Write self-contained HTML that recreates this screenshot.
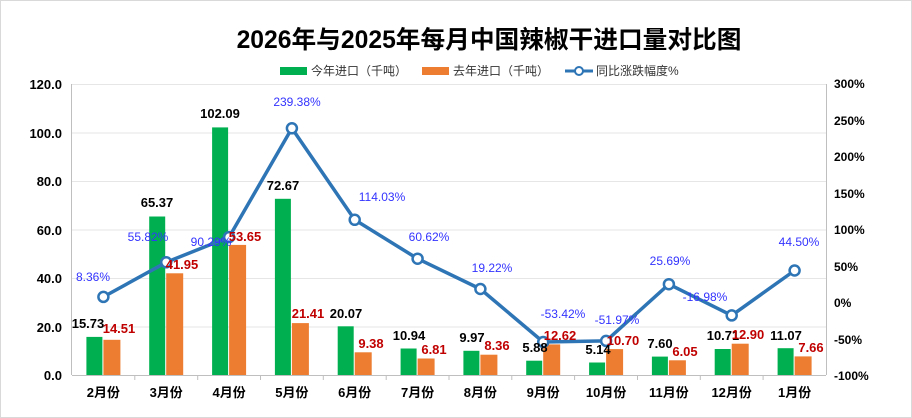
<!DOCTYPE html>
<html><head><meta charset="utf-8"><style>
body{margin:0;background:#fff}
svg{display:block;font-family:"Liberation Sans","Noto Sans CJK SC",sans-serif}
</style></head><body>
<svg width="912" height="418" viewBox="0 0 912 418">
<rect x="0.5" y="0.5" width="911" height="417" fill="#fff" stroke="#d9d9d9"/>
<text x="489" y="48" text-anchor="middle" font-size="24.7" font-weight="bold" fill="#000">2026年与2025年每月中国辣椒干进口量对比图</text>
<g font-size="12" fill="#333">
<rect x="280" y="67" width="27" height="8" fill="#00b050"/><text x="311" y="75">今年进口（千吨）</text>
<rect x="422" y="67" width="27" height="8" fill="#ed7d31"/><text x="453" y="75">去年进口（千吨）</text>
<line x1="565" y1="71" x2="593" y2="71" stroke="#2e75b6" stroke-width="3"/><circle cx="579" cy="71" r="4" fill="#fff" stroke="#2e75b6" stroke-width="2"/><text x="596" y="75">同比涨跌幅度%</text>
</g>
<g stroke="#e6e6e6" stroke-width="1">
<line x1="72" y1="84.5" x2="826" y2="84.5"/><line x1="72" y1="133" x2="826" y2="133"/><line x1="72" y1="181.5" x2="826" y2="181.5"/><line x1="72" y1="230" x2="826" y2="230"/><line x1="72" y1="278.5" x2="826" y2="278.5"/><line x1="72" y1="327" x2="826" y2="327"/>
</g>
<g stroke="#bfbfbf"><line x1="71.5" y1="84" x2="71.5" y2="375"/><line x1="826.5" y1="84" x2="826.5" y2="375"/><line x1="72" y1="375.5" x2="826" y2="375.5"/>
<line x1="134.8" y1="375" x2="134.8" y2="380"/><line x1="197.7" y1="375" x2="197.7" y2="380"/><line x1="260.5" y1="375" x2="260.5" y2="380"/><line x1="323.3" y1="375" x2="323.3" y2="380"/><line x1="386.2" y1="375" x2="386.2" y2="380"/><line x1="449" y1="375" x2="449" y2="380"/><line x1="511.8" y1="375" x2="511.8" y2="380"/><line x1="574.6" y1="375" x2="574.6" y2="380"/><line x1="637.5" y1="375" x2="637.5" y2="380"/><line x1="700.3" y1="375" x2="700.3" y2="380"/><line x1="763.1" y1="375" x2="763.1" y2="380"/>
</g>
<g font-size="13" font-weight="bold" text-anchor="end" fill="#000">
<text x="62" y="89">120.0</text><text x="62" y="138">100.0</text><text x="62" y="186">80.0</text><text x="62" y="235">60.0</text><text x="62" y="283">40.0</text><text x="62" y="332">20.0</text><text x="62" y="380">0.0</text>
</g>
<g font-size="12" font-weight="bold" fill="#000">
<text x="834" y="88">300%</text><text x="834" y="125">250%</text><text x="834" y="161">200%</text><text x="834" y="198">150%</text><text x="834" y="234">100%</text><text x="834" y="271">50%</text><text x="834" y="307">0%</text><text x="834" y="344">-50%</text><text x="834" y="380">-100%</text>
</g>
<g fill="#00b050">
<rect x="86.4" y="336.9" width="16" height="38.1"/>
<rect x="149.2" y="216.5" width="16" height="158.5"/>
<rect x="212.1" y="127.4" width="16" height="247.6"/>
<rect x="274.9" y="198.8" width="16" height="176.2"/>
<rect x="337.7" y="326.3" width="16" height="48.7"/>
<rect x="400.6" y="348.5" width="16" height="26.5"/>
<rect x="463.4" y="350.8" width="16" height="24.2"/>
<rect x="526.2" y="360.7" width="16" height="14.3"/>
<rect x="589.1" y="362.5" width="16" height="12.5"/>
<rect x="651.9" y="356.6" width="16" height="18.4"/>
<rect x="714.7" y="349" width="16" height="26"/>
<rect x="777.6" y="348.2" width="16" height="26.8"/>
</g>
<g fill="#ed7d31">
<rect x="103.4" y="339.8" width="17" height="35.2"/>
<rect x="166.2" y="273.3" width="17" height="101.7"/>
<rect x="229.1" y="244.9" width="17" height="130.1"/>
<rect x="291.9" y="323.1" width="17" height="51.9"/>
<rect x="354.7" y="352.3" width="17" height="22.7"/>
<rect x="417.6" y="358.5" width="17" height="16.5"/>
<rect x="480.4" y="354.7" width="17" height="20.3"/>
<rect x="543.2" y="344.4" width="17" height="30.6"/>
<rect x="606.1" y="349.1" width="17" height="25.9"/>
<rect x="668.9" y="360.3" width="17" height="14.7"/>
<rect x="731.7" y="343.7" width="17" height="31.3"/>
<rect x="794.6" y="356.4" width="17" height="18.6"/>
</g>
<g font-size="13" font-weight="bold" text-anchor="middle" fill="#000">
<text x="103.4" y="397">2月份</text><text x="166.2" y="397">3月份</text><text x="229.1" y="397">4月份</text><text x="291.9" y="397">5月份</text><text x="354.7" y="397">6月份</text><text x="417.6" y="397">7月份</text><text x="480.4" y="397">8月份</text><text x="543.2" y="397">9月份</text><text x="606.1" y="397">10月份</text><text x="668.9" y="397">11月份</text><text x="731.7" y="397">12月份</text><text x="794.6" y="397">1月份</text>
</g>
<polyline points="103.4,296.9 166.2,262.3 229.1,237.1 291.9,128.3 354.7,219.8 417.6,258.7 480.4,289 543.2,342 606.1,340.9 668.9,284.2 731.7,315.4 794.6,270.5" fill="none" stroke="#2e75b6" stroke-width="3.5" stroke-linejoin="round"/>
<g fill="#fff" stroke="#2e75b6" stroke-width="2.5">
<circle cx="103.4" cy="296.9" r="5"/><circle cx="166.2" cy="262.3" r="5"/><circle cx="229.1" cy="237.1" r="5"/><circle cx="291.9" cy="128.3" r="5"/><circle cx="354.7" cy="219.8" r="5"/><circle cx="417.6" cy="258.7" r="5"/><circle cx="480.4" cy="289" r="5"/><circle cx="543.2" cy="342" r="5"/><circle cx="606.1" cy="340.9" r="5"/><circle cx="668.9" cy="284.2" r="5"/><circle cx="731.7" cy="315.4" r="5"/><circle cx="794.6" cy="270.5" r="5"/>
</g>
<g font-size="13" font-weight="bold" text-anchor="middle" fill="#000">
<text x="88" y="328">15.73</text>
<text x="157" y="207">65.37</text>
<text x="220" y="118">102.09</text>
<text x="283" y="190">72.67</text>
<text x="346" y="318">20.07</text>
<text x="409" y="340">10.94</text>
<text x="472" y="342">9.97</text>
<text x="535" y="352">5.88</text>
<text x="598" y="354">5.14</text>
<text x="660" y="348">7.60</text>
<text x="723" y="340">10.71</text>
<text x="786" y="340">11.07</text>
</g>
<g font-size="13" font-weight="bold" text-anchor="middle" fill="#c00000">
<text x="119" y="333">14.51</text>
<text x="182" y="269">41.95</text>
<text x="245" y="241">53.65</text>
<text x="308" y="318">21.41</text>
<text x="371" y="348">9.38</text>
<text x="434" y="354">6.81</text>
<text x="497" y="350">8.36</text>
<text x="560" y="340">12.62</text>
<text x="623" y="345">10.70</text>
<text x="685" y="356">6.05</text>
<text x="748" y="339">12.90</text>
<text x="811" y="352">7.66</text>
</g>
<g font-size="12" text-anchor="middle" fill="#3333ff">
<text x="93" y="281">8.36%</text>
<text x="148" y="241">55.82%</text>
<text x="211" y="246">90.29%</text>
<text x="297" y="106">239.38%</text>
<text x="382" y="201">114.03%</text>
<text x="429" y="241">60.62%</text>
<text x="492" y="272">19.22%</text>
<text x="563" y="318">-53.42%</text>
<text x="617" y="324">-51.97%</text>
<text x="670" y="265">25.69%</text>
<text x="705" y="301">-16.98%</text>
<text x="799" y="246">44.50%</text>
</g>
</svg>
</body></html>
